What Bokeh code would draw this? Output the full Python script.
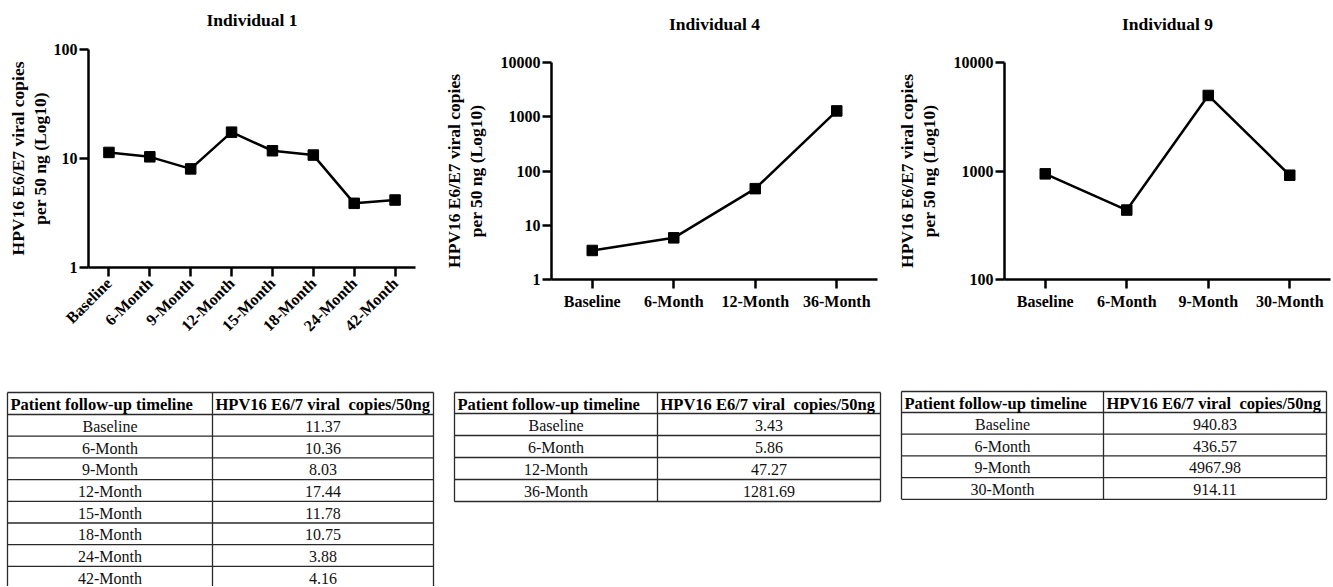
import math
from bokeh.plotting import figure
from bokeh.models import Range1d, FactorRange, FixedTicker, NumeralTickFormatter, Title
from bokeh.layouts import column, row
from bokeh.embed import file_html
from bokeh.resources import INLINE
from bokeh.core.properties import value

FONT = "Liberation Serif"

# ---- data ----
ind1_times = ["Baseline", "6-Month", "9-Month", "12-Month", "15-Month", "18-Month", "24-Month", "42-Month"]
ind1_values = [11.37, 10.36, 8.03, 17.44, 11.78, 10.75, 3.88, 4.16]

ind4_times = ["Baseline", "6-Month", "12-Month", "36-Month"]
ind4_values = [3.43, 5.86, 47.27, 1281.69]

ind9_times = ["Baseline", "6-Month", "9-Month", "30-Month"]
ind9_values = [940.83, 436.57, 4967.98, 914.11]

ind1_yticks = [1, 10, 100]
ind4_yticks = [1, 10, 100, 1000, 10000]
ind9_yticks = [100, 1000, 10000]

y_label = "HPV16 E6/E7 viral copies\nper 50 ng (Log10)"
table_headers = ["Patient follow-up timeline", "HPV16 E6/7 viral\u00a0 copies/50ng"]

TOP_H = 370
TABLE_H = 216


def chart(title, cats, vals, yticks, width, mb_left, frame_w, mb_top, frame_h,
          rotate, label_standoff, title_standoff):
    height = TOP_H
    p = figure(width=width, height=height,
               x_range=FactorRange(*cats),
               y_axis_type="log", y_range=Range1d(yticks[0], yticks[-1]),
               output_backend="svg", toolbar_location=None,
               min_border_left=mb_left,
               min_border_right=max(0, width - mb_left - frame_w),
               min_border_top=mb_top,
               min_border_bottom=height - mb_top - frame_h)
    p.outline_line_color = None
    p.xgrid.visible = False
    p.ygrid.visible = False
    # second (blank) line lifts the visible title line upward
    t = Title(text=title + "\n\u00a0", align="center", text_font=FONT, text_font_size="17.5px",
              text_font_style="bold", text_color="black", standoff=title_standoff)
    p.add_layout(t, "above")

    p.line(x=cats, y=vals, line_color="black", line_width=2.5)
    p.scatter(x=cats, y=vals, marker="square", size=10.5, fill_color="black",
              line_color="black")

    for ax in (p.xaxis, p.yaxis):
        ax.axis_line_width = 2.5
        ax.axis_line_color = "black"
        ax.major_tick_line_width = 2.5
        ax.major_tick_line_color = "black"
        ax.major_tick_out = 9
        ax.major_tick_in = 0
        ax.minor_tick_line_color = None
        ax.major_label_text_font = FONT
        ax.major_label_text_font_style = "bold"
        ax.major_label_text_font_size = "16px"
        ax.major_label_text_color = "black"
    p.xaxis.major_label_standoff = 4
    p.yaxis.major_label_standoff = 2
    if rotate:
        p.xaxis.major_label_orientation = math.pi / 4
    else:
        p.xaxis.major_label_orientation = "horizontal"

    p.yaxis.ticker = FixedTicker(ticks=yticks)
    p.yaxis.formatter = NumeralTickFormatter(format="0")
    p.yaxis.axis_label = y_label
    p.yaxis.axis_label_text_font = FONT
    p.yaxis.axis_label_text_font_style = "bold"
    p.yaxis.axis_label_text_font_size = "17.5px"
    p.yaxis.axis_label_text_color = "black"
    p.yaxis.axis_label_text_line_height = 1.08
    p.yaxis.axis_label_standoff = label_standoff
    return p


def table(cats, vals, width, left, top, c1, c2, head_h, row_h):
    height = TABLE_H
    p = figure(width=width, height=height,
               x_range=Range1d(0, width), y_range=Range1d(height, 0),
               x_axis_type=None, y_axis_type=None,
               output_backend="svg", toolbar_location=None, min_border=0)
    p.outline_line_color = None
    p.grid.visible = False
    n = len(cats)
    right = left + c1 + c2
    ys = [top, top + head_h] + [top + head_h + (i + 1) * row_h for i in range(n)]
    bottom = ys[-1]
    p.segment(x0=[left] * len(ys), x1=[right] * len(ys), y0=ys, y1=ys,
              line_color="#2a2a2a", line_width=1.3)
    xs = [left, left + c1, right]
    p.segment(x0=xs, x1=xs, y0=[top] * 3, y1=[bottom] * 3,
              line_color="#2a2a2a", line_width=1.3)
    p.text(x=[left + 3, left + c1 + 3], y=[top + head_h / 2 + 1] * 2, text=table_headers,
           text_font=value(FONT), text_font_style="bold", text_font_size="16.5px",
           text_align="left", text_baseline="middle", text_color="black")
    row_y = [top + head_h + (i + 0.5) * row_h + 1 for i in range(n)]
    p.text(x=[left + c1 / 2] * n, y=row_y, text=cats,
           text_font=value(FONT), text_font_size="16px",
           text_align="center", text_baseline="middle", text_color="#111111")
    p.text(x=[left + c1 + c2 / 2] * n, y=row_y, text=[f"{v:.2f}" for v in vals],
           text_font=value(FONT), text_font_size="16px",
           text_align="center", text_baseline="middle", text_color="#111111")
    return p


c1 = chart("Individual 1", ind1_times, ind1_values, ind1_yticks,
           width=440, mb_left=88, frame_w=327, mb_top=49, frame_h=218,
           rotate=True, label_standoff=1, title_standoff=0)
c4 = chart("Individual 4", ind4_times, ind4_values, ind4_yticks,
           width=440, mb_left=110, frame_w=327, mb_top=62, frame_h=217,
           rotate=False, label_standoff=12, title_standoff=17)
c9 = chart("Individual 9", ind9_times, ind9_values, ind9_yticks,
           width=452, mb_left=124, frame_w=326, mb_top=62, frame_h=217,
           rotate=False, label_standoff=12, title_standoff=17)

t1 = table(ind1_times, ind1_values, width=440, left=7, top=22, c1=205, c2=221, head_h=22, row_h=21.7)
t4 = table(ind4_times, ind4_values, width=450, left=14, top=22, c1=203, c2=223, head_h=21, row_h=22)
t9 = table(ind9_times, ind9_values, width=442, left=11, top=21, c1=202, c2=223, head_h=21, row_h=21.7)

layout = column(row(column(c1), column(c4), column(c9), spacing=0),
                row(t1, t4, t9, spacing=0), spacing=0)

open("out.html", "w").write(file_html(layout, INLINE))
